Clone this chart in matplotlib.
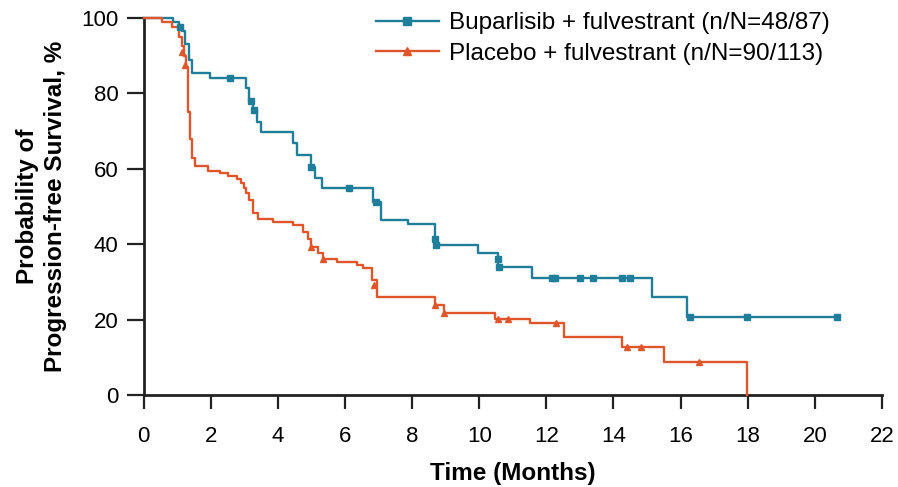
import matplotlib
matplotlib.use("Agg")
import matplotlib.pyplot as plt
from matplotlib.lines import Line2D

plt.rcParams["font.family"] = ["Liberation Sans", "DejaVu Sans"]

BLUE = "#1f7f9a"
ORANGE = "#e0562a"
AXIS = "#222222"

# Kaplan-Meier steps: (month of event, survival % after it)
bup_times = [0.88, 1.05, 1.15, 1.25, 1.35, 1.45, 1.98, 3.05, 3.15, 3.25, 3.38, 3.5,
             4.46, 4.58, 5.0, 5.1, 5.32, 6.83, 7.08, 7.88, 8.69, 8.75, 9.97, 10.56,
             11.58, 15.16, 16.2]
bup_surv = [98.9, 97.7, 96.5, 93.0, 89.0, 85.4, 84.2, 81.5, 78.0, 75.5, 72.5, 69.9,
            66.8, 63.7, 60.5, 57.6, 54.9, 51.3, 46.4, 45.3, 41.5, 39.8, 37.7, 34.0,
            31.1, 26.1, 20.8]
bup_last = 20.67
bup_cens_t = [1.1, 2.58, 3.2, 3.3, 4.99, 6.12, 6.93, 8.69, 8.72, 10.56, 10.6, 12.18,
              12.27, 13.01, 13.4, 14.26, 14.5, 16.29, 17.99, 20.67]
bup_cens_s = [97.7, 84.2, 78.0, 75.5, 60.5, 54.9, 51.3, 41.5, 39.8, 36.0, 34.0, 31.1,
              31.1, 31.1, 31.1, 31.1, 31.1, 20.8, 20.8, 20.8]

pbo_times = [0.55, 0.85, 1.05, 1.15, 1.2, 1.28, 1.33, 1.38, 1.45, 1.53, 1.92, 2.28,
             2.52, 2.79, 2.9, 3.0, 3.06, 3.15, 3.27, 3.41, 3.86, 4.46, 4.75, 4.9, 5.0,
             5.2, 5.35, 5.77, 6.36, 6.54, 6.81, 6.96, 8.69, 8.95, 10.48, 11.52, 12.53,
             14.24, 15.52, 17.99]
pbo_surv = [99.0, 97.5, 95.0, 92.5, 90.0, 87.0, 75.0, 68.0, 63.0, 60.8, 59.5, 58.9,
            58.1, 57.3, 56.2, 55.0, 53.5, 51.7, 48.3, 46.7, 45.9, 45.1, 43.2, 41.5, 39.3,
            37.7, 36.1, 35.3, 34.5, 33.7, 30.5, 26.0, 23.9, 21.8, 20.2, 19.1, 15.4,
            12.7, 8.8, 0.0]
pbo_last = 17.99
pbo_cens_t = [1.15, 1.25, 4.99, 5.35, 6.88, 8.69, 8.95, 10.56, 10.85, 12.3, 14.4, 14.83, 16.55]
pbo_cens_s = [91.0, 87.5, 39.3, 36.1, 29.2, 23.9, 21.8, 20.2, 20.2, 19.1, 12.7, 12.7, 8.8]

labels = ["Buparlisib + fulvestrant (n/N=48/87)", "Placebo + fulvestrant (n/N=90/113)"]
x_ticks = list(range(0, 23, 2))
y_ticks = [0, 20, 40, 60, 80, 100]


def km_path(times, surv, last):
    xs = [0.0] + list(times)
    ys = [100.0] + list(surv)
    if last > xs[-1]:
        xs.append(last)
        ys.append(ys[-1])
    return xs, ys


fig = plt.figure(figsize=(8.98, 4.87), dpi=100)
ax = fig.add_axes([0.1598, 0.1889, 0.8224, 0.774])

for times, surv, last, ct, cs, color, marker in [
    (bup_times, bup_surv, bup_last, bup_cens_t, bup_cens_s, BLUE, "s"),
    (pbo_times, pbo_surv, pbo_last, pbo_cens_t, pbo_cens_s, ORANGE, "^"),
]:
    xs, ys = km_path(times, surv, last)
    ax.step(xs, ys, where="post", color=color, linewidth=1.7, clip_on=False, zorder=3)
    ax.plot(ct, cs, ls="none", marker=marker, markersize=5, color=color, clip_on=False, zorder=4)

ax.set_xlim(0, 22)
ax.set_ylim(0, 100)
ax.set_xticks(x_ticks)
ax.set_yticks(y_ticks)
ax.tick_params(axis="x", direction="out", length=10, width=1.6, color=AXIS, labelsize=16, pad=12)
ax.tick_params(axis="y", direction="out", length=12, width=1.6, color=AXIS, labelsize=16, pad=6)
for s in ["top", "right"]:
    ax.spines[s].set_visible(False)
for s in ["left", "bottom"]:
    ax.spines[s].set_linewidth(2)
    ax.spines[s].set_color(AXIS)

ax.set_xlabel("Time (Months)", fontsize=17.5, fontweight="bold", labelpad=11)
ax.set_ylabel("Probability of\nProgression-free Survival, %", fontsize=17.5,
              fontweight="bold", labelpad=10, linespacing=1.3)

handles = [
    Line2D([], [], color=BLUE, linewidth=1.7, marker="s", markersize=5.5),
    Line2D([], [], color=ORANGE, linewidth=1.7, marker="^", markersize=5.5),
]
fig.legend(handles, labels, loc="upper left", bbox_to_anchor=(0.394, 1.02),
           frameon=False, fontsize=17.5, handlelength=2.6, handletextpad=0.4,
           labelspacing=0.35)

fig.savefig("out.png", dpi=100)
